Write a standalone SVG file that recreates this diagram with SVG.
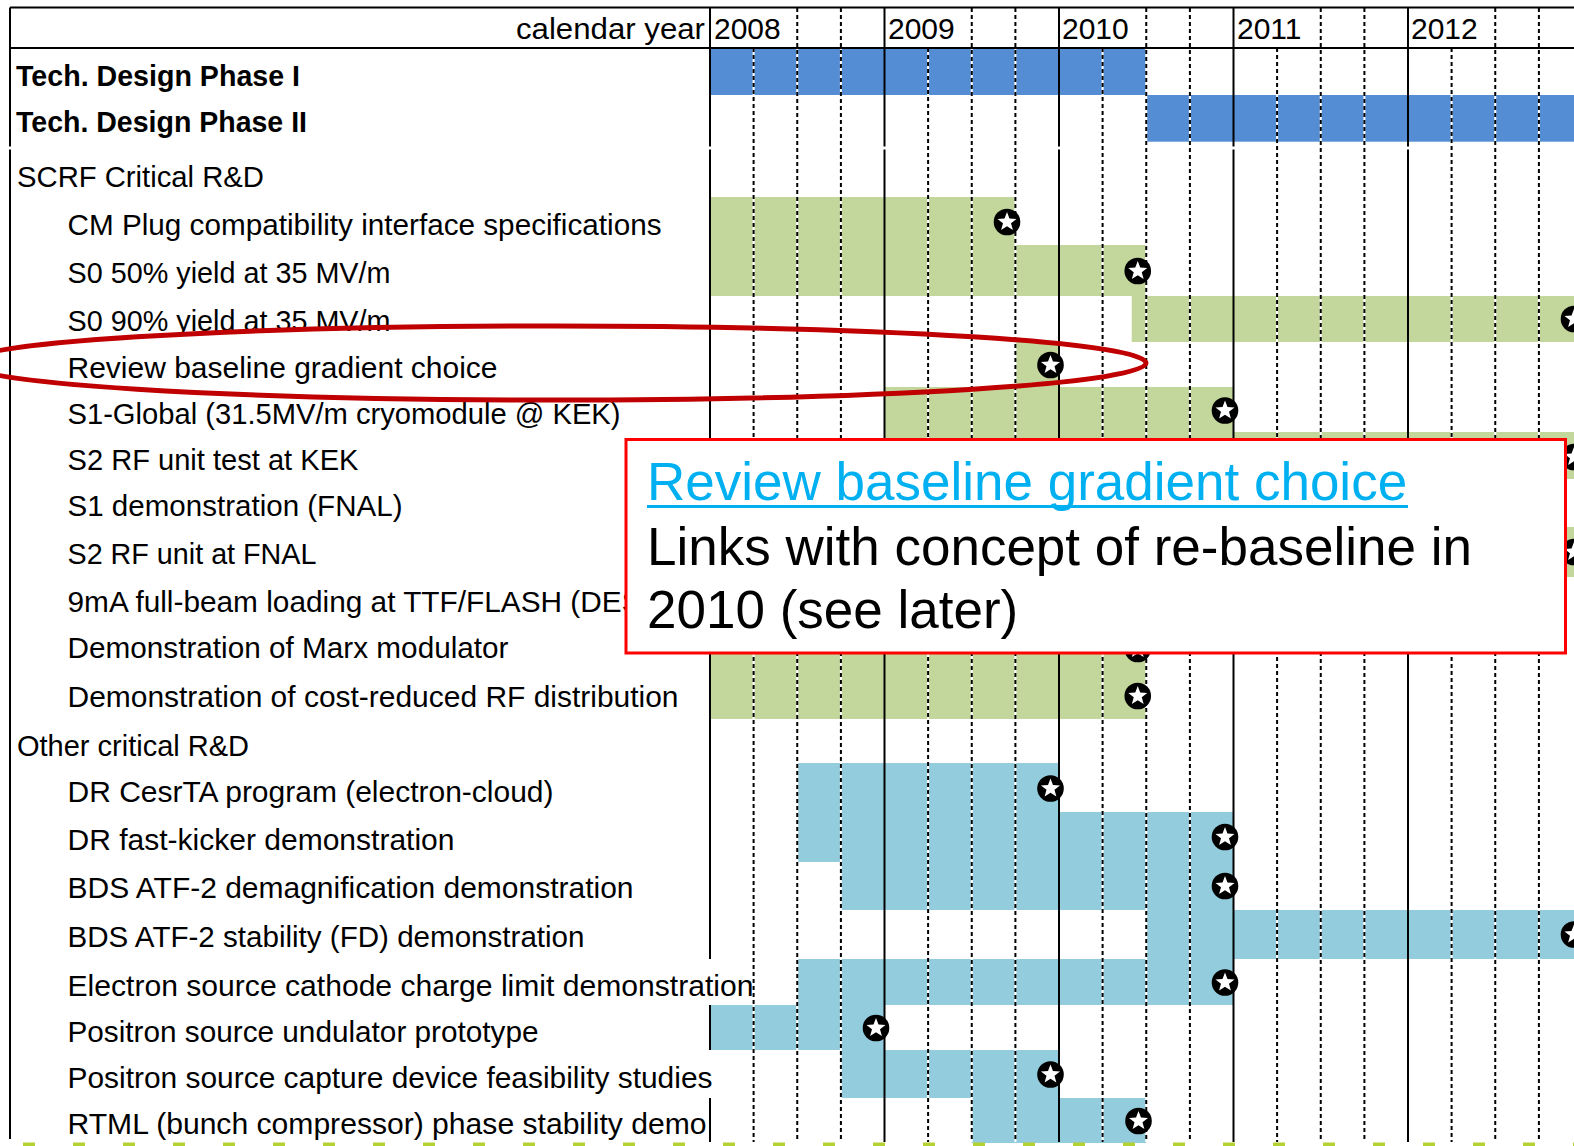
<svg xmlns="http://www.w3.org/2000/svg" xmlns:xlink="http://www.w3.org/1999/xlink" width="1574" height="1146" viewBox="0 0 1574 1146">
  <style>
    .lbl{font-family:"Liberation Sans",Arial,sans-serif;font-size:29px;fill:#000}
    .b{font-weight:bold}
    .yr{font-family:"Liberation Sans",Arial,sans-serif;font-size:30px;fill:#000}
    .ph{fill:#548dd4}
    .gr{fill:#c3d69b}
    .aq{fill:#93cddd}
    .solid{stroke:#000;stroke-width:2;fill:none}
    .dbg{stroke:#fff;stroke-width:2;fill:none}
    .dash{stroke:#000;stroke-width:2;stroke-dasharray:4 3;fill:none}
    .note{font-family:"Liberation Sans",Arial,sans-serif;font-size:53px}
  </style>
  <defs>
    <!-- milestone marker: black disc with a white five-point star -->
    <g id="ms">
      <circle cx="0" cy="0" r="13.3" fill="#000"/>
      <polygon fill="#fff" points="0,-10 2.47,-3.4 9.51,-3.09 4,1.3 5.88,8.09 0,4.2 -5.88,8.09 -4,1.3 -9.51,-3.09 -2.47,-3.4"/>
    </g>
  </defs>

  <rect x="0" y="0" width="1574" height="1146" fill="#fff"/>

  <!-- header -->
  <g id="header">
    <text class="lbl" x="516" y="39" textLength="189" lengthAdjust="spacingAndGlyphs">calendar year</text>
    <text class="yr" x="714" y="39">2008</text>
    <text class="yr" x="888" y="39">2009</text>
    <text class="yr" x="1062" y="39">2010</text>
    <text class="yr" x="1237" y="39">2011</text>
    <text class="yr" x="1411" y="39">2012</text>
  </g>

  <!-- schedule rows: label and bar -->
  <g id="row-tdp1">
    <rect class="ph" x="710" y="48" width="436.25" height="47"/>
    <text class="lbl b" x="16" y="86" textLength="284" lengthAdjust="spacingAndGlyphs">Tech. Design Phase I</text>
  </g>
  <g id="row-tdp2">
    <rect class="ph" x="1146.25" y="95" width="430" height="46.7"/>
    <text class="lbl b" x="16" y="132" textLength="291" lengthAdjust="spacingAndGlyphs">Tech. Design Phase II</text>
  </g>
  <g id="row-scrf">
    <text class="lbl" x="17" y="187" textLength="247" lengthAdjust="spacingAndGlyphs">SCRF Critical R&amp;D</text>
  </g>
  <g id="row-cmplug">
    <rect class="gr" x="710" y="197" width="305.4" height="48"/>
    <text class="lbl" x="67.5" y="235" textLength="594" lengthAdjust="spacingAndGlyphs">CM Plug compatibility interface specifications</text>
  </g>
  <g id="row-s0-50">
    <rect class="gr" x="710" y="245" width="436.25" height="51"/>
    <text class="lbl" x="67.5" y="283" textLength="323" lengthAdjust="spacingAndGlyphs">S0 50% yield at 35 MV/m</text>
  </g>
  <g id="row-s0-90">
    <rect class="gr" x="1131.7" y="296" width="450" height="46"/>
    <text class="lbl" x="67.5" y="331" textLength="323" lengthAdjust="spacingAndGlyphs">S0 90% yield at 35 MV/m</text>
  </g>
  <g id="row-review">
    <rect class="gr" x="1015.4" y="342" width="43.6" height="45"/>
    <text class="lbl" x="67.5" y="378" textLength="430" lengthAdjust="spacingAndGlyphs">Review baseline gradient choice</text>
  </g>
  <g id="row-s1global">
    <rect class="gr" x="884.5" y="387" width="349" height="45"/>
    <text class="lbl" x="67.5" y="424" textLength="553" lengthAdjust="spacingAndGlyphs">S1-Global (31.5MV/m cryomodule @ KEK)</text>
  </g>
  <g id="row-s2kek">
    <rect class="gr" x="884.5" y="432" width="700" height="47"/>
    <text class="lbl" x="67.5" y="470" textLength="291" lengthAdjust="spacingAndGlyphs">S2 RF unit test at KEK</text>
  </g>
  <g id="row-s1fnal">
    <text class="lbl" x="67.5" y="516" textLength="335" lengthAdjust="spacingAndGlyphs">S1 demonstration (FNAL)</text>
  </g>
  <g id="row-s2fnal">
    <rect class="gr" x="1233.5" y="527" width="350" height="50"/>
    <text class="lbl" x="67.5" y="564" textLength="249" lengthAdjust="spacingAndGlyphs">S2 RF unit at FNAL</text>
  </g>
  <g id="row-9ma">
    <text class="lbl" x="67.5" y="612" textLength="574" lengthAdjust="spacingAndGlyphs">9mA full-beam loading at TTF/FLASH (DES</text>
  </g>
  <g id="row-marx">
    <rect class="gr" x="710" y="625" width="436.25" height="47"/>
    <text class="lbl" x="67.5" y="658" textLength="441" lengthAdjust="spacingAndGlyphs">Demonstration of Marx modulator</text>
  </g>
  <g id="row-rfdist">
    <rect class="gr" x="710" y="672" width="436.25" height="47"/>
    <text class="lbl" x="67.5" y="707" textLength="611" lengthAdjust="spacingAndGlyphs">Demonstration of cost-reduced RF distribution</text>
  </g>
  <g id="row-other">
    <text class="lbl" x="17" y="756" textLength="232" lengthAdjust="spacingAndGlyphs">Other critical R&amp;D</text>
  </g>
  <g id="row-cesrta">
    <rect class="aq" x="797.25" y="763" width="261.75" height="49"/>
    <text class="lbl" x="67.5" y="802" textLength="486" lengthAdjust="spacingAndGlyphs">DR CesrTA program (electron-cloud)</text>
  </g>
  <g id="row-kicker">
    <rect class="aq" x="797.25" y="812" width="436.25" height="50"/>
    <text class="lbl" x="67.5" y="850" textLength="387" lengthAdjust="spacingAndGlyphs">DR fast-kicker demonstration</text>
  </g>
  <g id="row-atf2-demag">
    <rect class="aq" x="840.9" y="862" width="392.6" height="48"/>
    <text class="lbl" x="67.5" y="898" textLength="566" lengthAdjust="spacingAndGlyphs">BDS ATF-2 demagnification demonstration</text>
  </g>
  <g id="row-atf2-fd">
    <rect class="aq" x="1146.25" y="910" width="440" height="49"/>
    <text class="lbl" x="67.5" y="947" textLength="517" lengthAdjust="spacingAndGlyphs">BDS ATF-2 stability (FD) demonstration</text>
  </g>
  <g id="row-esource">
    <rect class="aq" x="797.25" y="959" width="436.25" height="46"/>
    <text class="lbl" x="67.5" y="996" textLength="686" lengthAdjust="spacingAndGlyphs">Electron source cathode charge limit demonstration</text>
  </g>
  <g id="row-undulator">
    <rect class="aq" x="710" y="1005" width="174.5" height="45"/>
    <text class="lbl" x="67.5" y="1042" textLength="471" lengthAdjust="spacingAndGlyphs">Positron source undulator prototype</text>
  </g>
  <g id="row-capture">
    <rect class="aq" x="840.9" y="1050" width="218.1" height="48"/>
    <text class="lbl" x="67.5" y="1088" textLength="645" lengthAdjust="spacingAndGlyphs">Positron source capture device feasibility studies</text>
  </g>
  <g id="row-rtml">
    <rect class="aq" x="971.75" y="1098" width="174.5" height="45"/>
    <text class="lbl" x="67.5" y="1134" textLength="639" lengthAdjust="spacingAndGlyphs">RTML (bunch compressor) phase stability demo</text>
  </g>

  <!-- table rules and calendar grid -->
  <g id="grid">
    <!-- quarter lines: white underlay so the gaps show white on the bars -->
    <path class="dbg" d="M753.6 48V1142M797.25 8V1142M840.9 8V1142M928.1 48V1142M971.75 8V1142M1015.4 8V1142M1102.6 48V1142M1146.25 8V1142M1189.9 8V1142M1277.1 48V1142M1320.75 8V1142M1364.4 8V1142M1451.6 48V1142M1495.25 8V1142M1538.9 8V1142"/>
    <path class="dash" d="M753.6 48V1142M797.25 8V1142M840.9 8V1142M928.1 48V1142M971.75 8V1142M1015.4 8V1142M1102.6 48V1142M1146.25 8V1142M1189.9 8V1142M1277.1 48V1142M1320.75 8V1142M1364.4 8V1142M1451.6 48V1142M1495.25 8V1142M1538.9 8V1142"/>
    <!-- year lines -->
    <path class="solid" d="M710 7V146.5M710 149.5V959M710 1005V1050M710 1098V1142M884.5 7V146.5M884.5 149.5V1142M1059 7V146.5M1059 149.5V1142M1233.5 7V146.5M1233.5 149.5V1142M1408 7V146.5M1408 149.5V1142"/>
    <!-- outer frame and header rule -->
    <path class="solid" d="M10 7.5H1574M10 48H1574M10 7.5V146.5M10 149.5V1139"/>
    <!-- edge of the following block -->
    <path d="M0 1144.5H1574" stroke="#b4d232" stroke-width="4" stroke-dasharray="12 38" stroke-dashoffset="27" fill="none"/>
  </g>

  <!-- milestones -->
  <g id="milestones">
    <use xlink:href="#ms" x="1007" y="222"/>
    <use xlink:href="#ms" x="1137.75" y="271"/>
    <use xlink:href="#ms" x="1574" y="319"/>
    <use xlink:href="#ms" x="1050.5" y="365"/>
    <use xlink:href="#ms" x="1225" y="410.5"/>
    <use xlink:href="#ms" x="1574" y="457"/>
    <use xlink:href="#ms" x="1574" y="552"/>
    <use xlink:href="#ms" x="1137.75" y="649"/>
    <use xlink:href="#ms" x="1137.75" y="696"/>
    <use xlink:href="#ms" x="1050.5" y="788.5"/>
    <use xlink:href="#ms" x="1225" y="837"/>
    <use xlink:href="#ms" x="1225" y="886"/>
    <use xlink:href="#ms" x="1574" y="934.5"/>
    <use xlink:href="#ms" x="1225" y="982.5"/>
    <use xlink:href="#ms" x="876" y="1028"/>
    <use xlink:href="#ms" x="1050.5" y="1074.5"/>
    <use xlink:href="#ms" x="1138.5" y="1121"/>
  </g>

  <!-- highlight ring around the gradient review row -->
  <g id="highlight">
    <ellipse cx="555" cy="363" rx="591" ry="37" fill="none" stroke="#c00000" stroke-width="5"/>
  </g>

  <!-- annotation box -->
  <g id="callout">
    <rect x="626" y="439.5" width="939.5" height="213.5" fill="#fff" stroke="#ff0000" stroke-width="3"/>
    <text class="note" x="647" y="500" fill="#00b0f0">Review baseline gradient choice</text>
    <rect x="647" y="505" width="761" height="3" fill="#00b0f0"/>
    <text class="note" x="647" y="565" fill="#000">Links with concept of re-baseline in</text>
    <text class="note" x="647" y="628" fill="#000">2010 (see later)</text>
  </g>
</svg>
